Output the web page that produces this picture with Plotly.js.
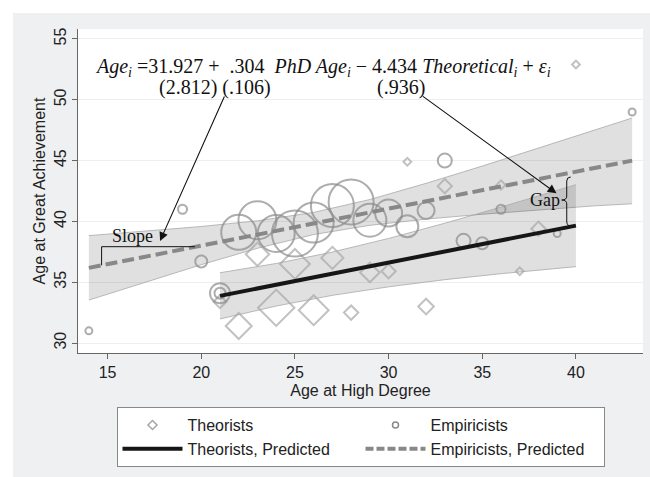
<!DOCTYPE html>
<html>
<head>
<meta charset="utf-8">
<script src="https://cdn.plot.ly/plotly-3.0.1.min.js"></script>
<style>html,body{margin:0;padding:0;background:#fff;}#chart{width:650px;height:477px;}</style>
</head>
<body>
<div id="chart"></div>
<script>
// ---- data ----
const theoX = [21, 22, 23, 24, 25, 26, 27, 28, 29, 30, 31, 32, 33, 36, 37, 38, 40];
const theoY = [33.4, 31.4, 37.3, 32.9, 36.5, 32.7, 37.0, 32.5, 35.8, 35.9, 44.9, 33.0, 42.9, 43.0, 35.9, 39.4, 52.9];
const theoSize = [10, 20, 18, 28, 23, 23, 17, 11, 15, 11, 6, 12, 11, 7, 6, 11, 6];

const empX = [14, 19, 20, 21, 21, 22, 23, 24, 25, 26, 27, 28, 29, 30, 31, 32, 33, 34, 35, 36, 39, 43];
const empY = [31.0, 41.0, 36.7, 34.1, 34.1, 39.1, 40.1, 39.0, 39.0, 39.9, 41.3, 41.6, 40.1, 40.7, 39.6, 40.9, 45.0, 38.4, 38.2, 41.0, 39.0, 49.0];
const empSize = [7, 9, 12, 20, 11, 35, 38, 37, 46, 40, 43, 45, 33, 27, 22, 17, 14, 14, 12, 9, 7, 7];

// predicted lines (end points)
const theoFitX = [21, 40];
const theoFitY = [33.88, 39.65];
const empFitX = [14, 43];
const empFitY = [36.18, 45.00];

// confidence bands
const empBandX = [14, 17, 20, 23, 26, 29, 32, 35, 38, 41, 43];
const empBandLo = [33.53, 35.00, 36.44, 37.79, 38.92, 39.68, 40.19, 40.59, 40.94, 41.28, 41.45];
const empBandHi = [38.83, 39.18, 39.58, 40.05, 40.74, 41.80, 43.13, 44.55, 46.02, 47.50, 48.50];
const theoBandX = [21, 24, 27, 30, 33, 36, 40];
const theoBandLo = [31.98, 33.04, 33.92, 34.62, 35.21, 35.70, 36.28];
const theoBandHi = [35.78, 36.54, 37.48, 38.60, 39.85, 41.18, 43.02];

const legendNames = ['Theorists', 'Empiricists', 'Theorists, Predicted', 'Empiricists, Predicted'];
const xTicks = [15, 20, 25, 30, 35, 40];
const yTicks = [30, 35, 40, 45, 50, 55];

// ---- styles ----
const bandFill = 'rgba(0,0,0,0.12)';
const bandLine = {color: '#a8a8a8', width: 0.8};
const diamondCol = '#a6a6a6';
const circleCol = '#8a8a8a';
const serif = 'Liberation Serif, Times New Roman, serif';
const sans = 'Liberation Sans, Arial, sans-serif';

const traces = [
  {x: empBandX, y: empBandLo, type: 'scatter', mode: 'lines', line: bandLine, fill: 'none', showlegend: false, hoverinfo: 'skip'},
  {x: empBandX, y: empBandHi, type: 'scatter', mode: 'lines', line: bandLine, fill: 'tonexty', fillcolor: bandFill, showlegend: false, hoverinfo: 'skip'},
  {x: theoBandX, y: theoBandLo, type: 'scatter', mode: 'lines', line: bandLine, fill: 'none', showlegend: false, hoverinfo: 'skip'},
  {x: theoBandX, y: theoBandHi, type: 'scatter', mode: 'lines', line: bandLine, fill: 'tonexty', fillcolor: bandFill, showlegend: false, hoverinfo: 'skip'},
  {x: theoX, y: theoY, type: 'scatter', mode: 'markers', showlegend: false,
   marker: {symbol: 'diamond-open', size: theoSize, color: diamondCol, line: {color: diamondCol, width: 2}}},
  {x: empX, y: empY, type: 'scatter', mode: 'markers', showlegend: false,
   marker: {symbol: 'circle-open', size: empSize, color: circleCol, line: {color: circleCol, width: 2}}},
  {x: empFitX, y: empFitY, type: 'scatter', mode: 'lines', showlegend: false,
   line: {color: '#888888', width: 4, dash: '12px,5px'}},
  {x: theoFitX, y: theoFitY, type: 'scatter', mode: 'lines', showlegend: false,
   line: {color: '#161616', width: 4}},
  // legend entries
  {x: [null], y: [null], type: 'scatter', mode: 'markers', name: legendNames[0],
   marker: {symbol: 'diamond-open', size: 7, color: diamondCol, line: {color: diamondCol, width: 1.5}}},
  {x: [null], y: [null], type: 'scatter', mode: 'markers', name: legendNames[1],
   marker: {symbol: 'circle-open', size: 6, color: circleCol, line: {color: circleCol, width: 1.5}}},
  {x: [null], y: [null], type: 'scatter', mode: 'lines', name: legendNames[2],
   line: {color: '#161616', width: 4}},
  {x: [null], y: [null], type: 'scatter', mode: 'lines', name: legendNames[3],
   line: {color: '#888888', width: 4, dash: '8px,3px'}}
];

const layout = {
  width: 650, height: 477,
  margin: {l: 78, r: 7, t: 29, b: 124},
  paper_bgcolor: '#ffffff',
  plot_bgcolor: '#ffffff',
  font: {family: sans, size: 16, color: '#222'},
  xaxis: {
    range: [13.42, 43.58], tickvals: xTicks, ticktext: xTicks.map(String),
    showgrid: false, zeroline: false, showline: true, linecolor: '#666', linewidth: 1,
    ticks: 'outside', ticklen: 5, tickcolor: '#666', tickfont: {size: 16, color: '#222'},
    title: {text: 'Age at High Degree', font: {size: 16, color: '#222'}, standoff: 4}
  },
  yaxis: {
    range: [29.18, 55.82], tickvals: yTicks, ticktext: yTicks.map(String), tickangle: -90,
    showgrid: true, gridcolor: '#eeeeee', gridwidth: 1, zeroline: false,
    showline: true, linecolor: '#666', linewidth: 1,
    ticks: 'outside', ticklen: 5, tickcolor: '#666', tickfont: {size: 16, color: '#222'},
    title: {text: 'Age at Great Achievement', font: {size: 16, color: '#222'}, standoff: 1}
  },
  legend: {
    orientation: 'h', x: 0.5, xanchor: 'center', y: -0.167, yanchor: 'top',
    bgcolor: '#ffffff', bordercolor: '#888', borderwidth: 1,
    font: {size: 16, color: '#222'}, itemwidth: 60, entrywidth: 168, traceorder: 'normal',
    tracegroupgap: 0
  },
  shapes: [
    {type: 'rect', xref: 'paper', yref: 'paper', x0: -0.115, x1: 1.03, y0: -0.42, y1: 1.0494,
     fillcolor: '#eef0f2', line: {width: 0}, layer: 'below'},
    {type: 'rect', xref: 'paper', yref: 'paper', x0: 0, x1: 1, y0: 0, y1: 1,
     fillcolor: '#ffffff', line: {width: 0}, layer: 'below'},
    {type: 'line', xref: 'x', yref: 'y', x0: 14.68, y0: 37.92, x1: 19.66, y1: 37.92, line: {color: '#111', width: 1}},
    {type: 'line', xref: 'x', yref: 'y', x0: 14.68, y0: 37.92, x1: 14.68, y1: 36.39, line: {color: '#111', width: 1}},
    {type: 'path', xref: 'x', yref: 'y',
     path: 'M 39.722 43.651 Q 39.509 43.651 39.509 43.322 L 39.509 42.089 Q 39.509 41.760 39.242 41.760 Q 39.509 41.760 39.509 41.431 L 39.509 40.033 Q 39.509 39.622 39.722 39.622',
     line: {color: '#111', width: 1}}
  ],
  annotations: [
    {xref: 'x', yref: 'y', x: 14.215, y: 52.62, xanchor: 'left', yanchor: 'middle', showarrow: false,
     font: {family: serif, size: 20, color: '#111'},
     text: '<i>Age<sub>i</sub></i> =31.927 +&nbsp;&nbsp;.304&nbsp;&nbsp;<i>PhD Age<sub>i</sub></i> \u2212 4.434 <i>Theoretical<sub>i</sub></i> + <i>\u03b5<sub>i</sub></i>'},
    {xref: 'x', yref: 'y', x: 17.63, y: 50.97, xanchor: 'left', yanchor: 'middle', showarrow: false,
     font: {family: serif, size: 20, color: '#111'}, text: '(2.812) (.106)'},
    {xref: 'x', yref: 'y', x: 29.26, y: 50.97, xanchor: 'left', yanchor: 'middle', showarrow: false,
     font: {family: serif, size: 20, color: '#111'}, text: '(.936)'},
    {xref: 'x', yref: 'y', x: 16.32, y: 38.8, showarrow: false,
     font: {family: serif, size: 18, color: '#111'}, text: 'Slope'},
    {xref: 'x', yref: 'y', x: 38.33, y: 41.76, showarrow: false,
     font: {family: serif, size: 18, color: '#111'}, text: 'Gap'},
    {xref: 'x', yref: 'y', x: 17.80, y: 38.39, ax: 65, ay: -146, text: '', showarrow: true,
     arrowhead: 2, arrowsize: 1.6, arrowwidth: 1.1, arrowcolor: '#111', standoff: 0},
    {xref: 'x', yref: 'y', x: 38.96, y: 42.31, ax: -135, ay: -98, text: '', showarrow: true,
     arrowhead: 2, arrowsize: 1.6, arrowwidth: 1.1, arrowcolor: '#111', standoff: 0}
  ]
};

Plotly.newPlot('chart', traces, layout, {displayModeBar: false, staticPlot: true});
</script>
</body>
</html>
